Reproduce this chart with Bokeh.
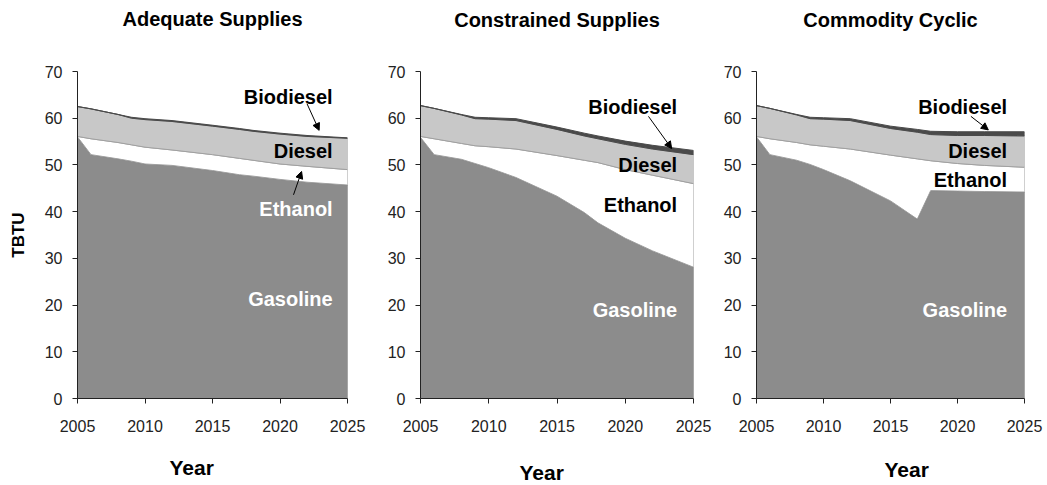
import numpy as np
from bokeh.plotting import figure
from bokeh.layouts import row
from bokeh.models import Range1d, FixedTicker, Label, Arrow, NormalHead, Title
from bokeh.embed import file_html
from bokeh.resources import INLINE

# ---------------- data (TBTU) ----------------
years = [2005, 2006, 2008, 2009, 2010, 2012, 2015, 2017, 2018, 2020, 2022, 2025]

adequate_gasoline = [56.0, 52.2, 51.3, 50.8, 50.2, 49.9, 48.8, 47.9, 47.6, 46.9, 46.3, 45.7]
adequate_ethanol = [0.1, 3.4, 3.5, 3.5, 3.6, 3.3, 3.4, 3.5, 3.4, 3.3, 3.4, 3.3]
adequate_diesel = [6.4, 6.4, 6.0, 5.7, 5.9, 6.1, 6.1, 6.2, 6.2, 6.4, 6.4, 6.7]
adequate_biodiesel = [0.0, 0.0, 0.0, 0.2, 0.2, 0.2, 0.2, 0.2, 0.2, 0.2, 0.2, 0.1]

constrained_gasoline = [55.9, 52.2, 51.2, 50.3, 49.4, 47.3, 43.3, 39.8, 37.6, 34.3, 31.6, 28.1]
constrained_ethanol = [0.2, 3.4, 3.4, 3.8, 4.5, 6.1, 8.7, 11.2, 12.9, 14.7, 16.2, 17.9]
constrained_diesel = [6.6, 6.5, 6.1, 5.8, 5.9, 6.1, 5.6, 5.2, 5.1, 5.4, 5.6, 6.2]
constrained_biodiesel = [0.0, 0.0, 0.1, 0.3, 0.3, 0.4, 0.5, 0.6, 0.6, 0.7, 0.8, 0.9]

cyclic_gasoline = [56.0, 52.2, 51.0, 50.1, 49.0, 46.6, 42.3, 38.4, 44.5, 44.4, 44.3, 44.2]
cyclic_ethanol = [0.1, 3.4, 3.8, 4.2, 5.0, 6.8, 9.8, 12.9, 6.4, 5.9, 5.6, 5.3]
cyclic_diesel = [6.6, 6.5, 5.9, 5.6, 5.8, 6.1, 5.7, 5.7, 5.6, 6.0, 6.4, 6.7]
cyclic_biodiesel = [0.0, 0.0, 0.1, 0.3, 0.3, 0.4, 0.5, 0.6, 0.7, 0.8, 0.8, 0.9]

panel_titles = ["Adequate Supplies", "Constrained Supplies", "Commodity Cyclic"]
x_ticks = [2005, 2010, 2015, 2020, 2025]
y_ticks = [0, 10, 20, 30, 40, 50, 60, 70]

FONT = "Liberation Sans"
GAS_C, ETH_C, DIE_C, BIO_C = "#8c8c8c", "#ffffff", "#c8c8c8", "#4a4a4a"


def spacer(size):
    return Title(text=" ", text_font_size="1px", standoff=size, text_color="white")


def make_panel(title, series, width, bl, br, bt, bb, height,
               top_gap, year_off, year_gap, labels, arrows, show_ylabel=False):
    p = figure(width=width, height=height, output_backend="svg", toolbar_location=None,
               x_range=Range1d(2005, 2025), y_range=Range1d(0, 70),
               min_border_left=bl, min_border_right=br, min_border_top=bt,
               min_border_bottom=bb, outline_line_color=None,
               background_fill_color="white", border_fill_color="white")
    p.grid.visible = False
    for ax in (p.xaxis[0], p.yaxis[0]):
        ax.axis_line_color = "#222222"
        ax.major_tick_line_color = "#222222"
        ax.major_tick_out = 5
        ax.major_tick_in = 0
        ax.minor_tick_line_color = None
        ax.major_label_text_font = FONT
        ax.major_label_text_font_size = "16px"
        ax.major_label_text_color = "#222222"
    p.xaxis.ticker = FixedTicker(ticks=x_ticks)
    p.yaxis.ticker = FixedTicker(ticks=y_ticks)
    p.xaxis.major_label_standoff = 16
    p.yaxis.major_label_standoff = 10

    if show_ylabel:
        p.yaxis.axis_label = "TBTU"
        p.yaxis.axis_label_text_font = FONT
        p.yaxis.axis_label_text_font_size = "17px"
        p.yaxis.axis_label_text_font_style = "bold"
        p.yaxis.axis_label_text_color = "black"
        p.yaxis.axis_label_standoff = 14

    # title: spacer next to the frame, then the visible title
    p.add_layout(spacer(top_gap), "above")
    p.add_layout(Title(text=title, align="center", standoff=0,
                       text_font=FONT, text_font_size="20px", text_font_style="bold",
                       text_color="black"), "above")
    # x-axis caption
    p.add_layout(spacer(year_gap), "below")
    p.add_layout(Title(text="Year", align="left", offset=year_off, standoff=0,
                       text_font=FONT, text_font_size="21px", text_font_style="bold",
                       text_color="black"), "below")

    xs = np.array(years, dtype=float)
    lower = np.zeros(len(years))
    styles = [(GAS_C, "#6c6c6c"), (ETH_C, "#a0a0a0"), (DIE_C, "#a0a0a0"), (BIO_C, BIO_C)]
    for vals, (fc, lc) in zip(series, styles):
        upper = lower + np.array(vals, dtype=float)
        px = np.concatenate([xs, xs[::-1]])
        py = np.concatenate([upper, lower[::-1]])
        p.patch(px, py, fill_color=fc, line_color=lc, line_width=1)
        lower = upper

    for (lx, ly, txt, col) in labels:
        p.add_layout(Label(x=lx, y=ly, text=txt, text_font=FONT, text_font_size="20px",
                           text_font_style="bold", text_align="right",
                           text_baseline="middle", text_color=col))
    for (x0, y0, x1, y1) in arrows:
        p.add_layout(Arrow(end=NormalHead(size=7, fill_color="black", line_color="black"),
                           x_start=x0, y_start=y0, x_end=x1, y_end=y1,
                           line_color="black", line_width=1))
    return p


p1 = make_panel(panel_titles[0],
                [adequate_gasoline, adequate_ethanol, adequate_diesel, adequate_biodiesel],
                370, 77, 23, 71, 85, 485,
                39, 92, 16,
                [(2023.9, 64.5, "Biodiesel", "black"), (2023.9, 53.0, "Diesel", "black"),
                 (2023.9, 40.5, "Ethanol", "white"), (2023.9, 21.3, "Gasoline", "white")],
                [(2022.0, 63.1, 2022.9, 57.4), (2021.0, 43.6, 2021.6, 48.6)],
                show_ylabel=True)

p2 = make_panel(panel_titles[1],
                [constrained_gasoline, constrained_ethanol, constrained_diesel, constrained_biodiesel],
                350, 50, 27, 70, 87, 485,
                38, 99, 21,
                [(2023.8, 62.3, "Biodiesel", "black"), (2023.8, 50.0, "Diesel", "black"),
                 (2023.8, 41.5, "Ethanol", "black"), (2023.8, 19.0, "Gasoline", "white")],
                [(2021.7, 60.4, 2023.4, 53.5)])

p3 = make_panel(panel_titles[2],
                [cyclic_gasoline, cyclic_ethanol, cyclic_diesel, cyclic_biodiesel],
                327, 36, 23, 70, 87, 485,
                38, 128, 18,
                [(2023.7, 62.3, "Biodiesel", "black"), (2023.7, 52.9, "Diesel", "black"),
                 (2023.7, 46.7, "Ethanol", "black"), (2023.7, 19.0, "Gasoline", "white")],
                [(2021.0, 60.4, 2022.3, 57.5)])

layout = row(p1, p2, p3)
open("out.html", "w").write(file_html(layout, INLINE))
